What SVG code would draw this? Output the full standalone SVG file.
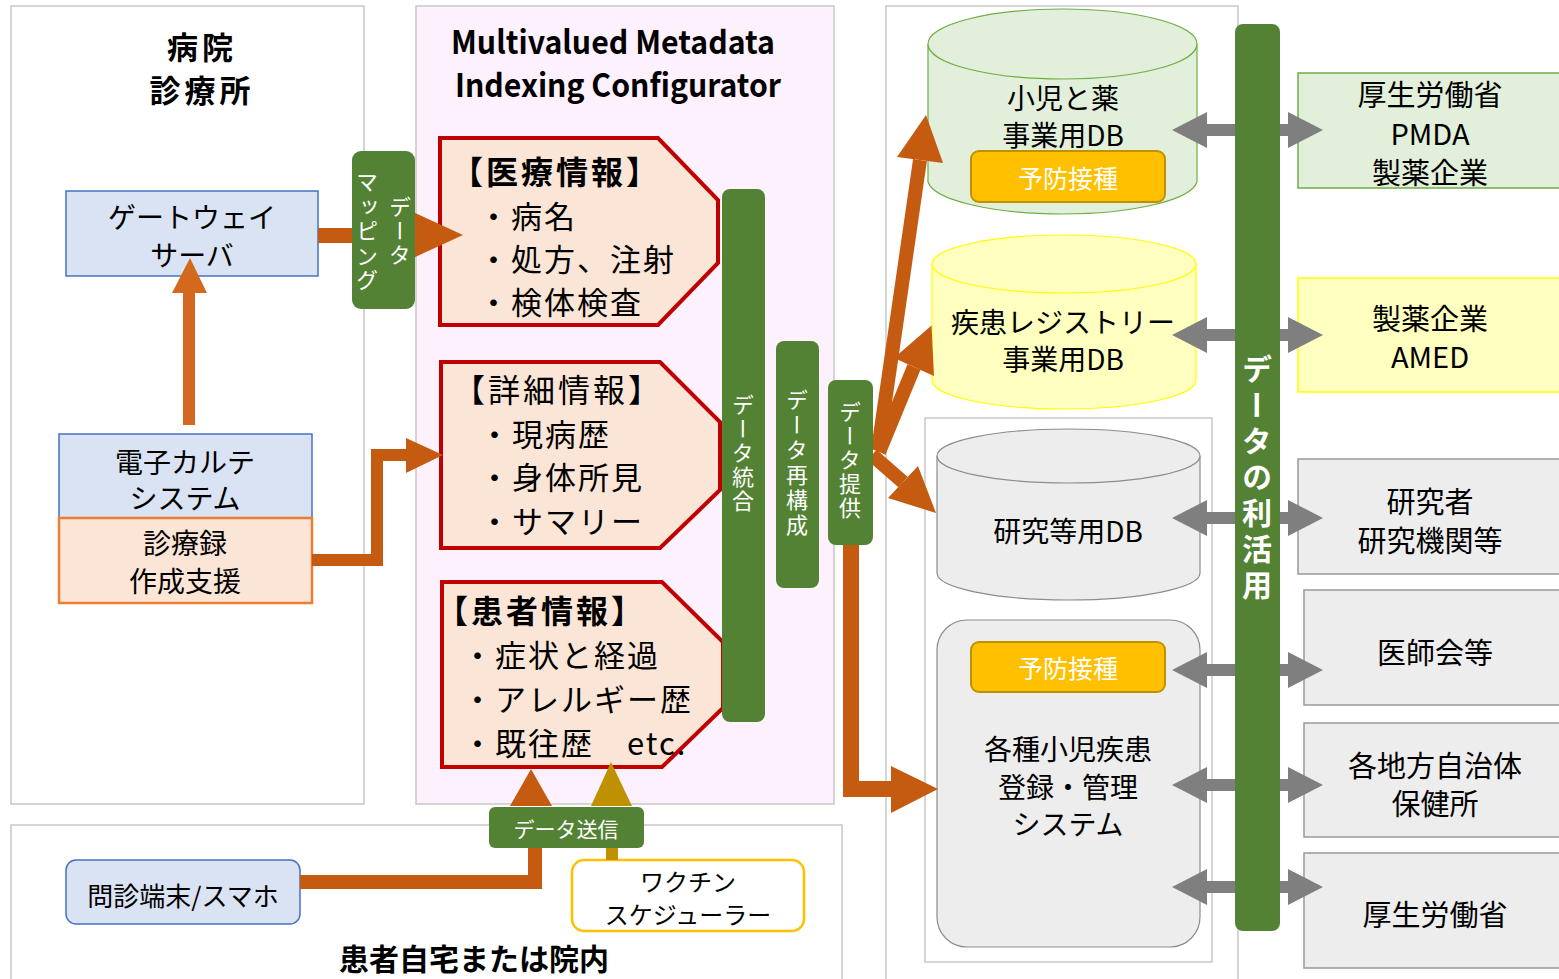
<svg xmlns="http://www.w3.org/2000/svg" width="1559" height="979" viewBox="0 0 1559 979">
<style>
text{font-family:"Noto Sans CJK JP","Noto Sans",sans-serif;fill:#000;dominant-baseline:central}
.c{text-anchor:middle}
.b{font-weight:bold}
.panel{fill:#fff;stroke:#c8c8c8;stroke-width:1.5}
.blue{fill:#dae3f3;stroke:#4472c4;stroke-width:1.5}
.pent{fill:#fbe5d6;stroke:#c00000;stroke-width:4}
.grn{fill:#548235}
.vt{fill:#fff;writing-mode:vertical-rl;font-size:22px}
.yobo{fill:#ffc000;stroke:#bf9000;stroke-width:2}
.gbox{fill:#ededed;stroke:#999;stroke-width:1.5}
.org{fill:#c55a11}
.ol{fill:none;stroke:#c55a11}
.w{fill:#fff}
.hd{font-size:32px;letter-spacing:3px}
.it{font-size:31px;letter-spacing:2px}
.ttl{font-size:31px;letter-spacing:4px;font-weight:bold}
</style>
<defs>
<path id="dbl" d="M1172,0 L1207,-18 L1207,-6 L1288,-6 L1288,-18 L1323,0 L1288,18 L1288,6 L1207,6 L1207,18 Z" fill="#7f7f7f"/>
</defs>

<!-- panels -->
<g id="panel-hospital">
<rect class="panel" x="11" y="6" width="353" height="798"/>
<text class="c ttl" x="202" y="45">病院</text>
<text class="c ttl" x="202" y="88">診療所</text>
</g>
<g id="panel-mmic">
<rect x="416" y="6" width="418" height="798" fill="#fdf1fd" stroke="#c8c8c8" stroke-width="1.5"/>
<text class="c b" x="613" y="54" font-size="32" textLength="324" lengthAdjust="spacingAndGlyphs" style="dominant-baseline:alphabetic">Multivalued Metadata</text>
<text class="c b" x="618" y="97" font-size="32" textLength="326" lengthAdjust="spacingAndGlyphs" style="dominant-baseline:alphabetic">Indexing Configurator</text>
</g>
<g id="panel-right">
<rect class="panel" x="886" y="6" width="352" height="1000"/>
<rect class="panel" x="925" y="418" width="287" height="544"/>
</g>
<g id="panel-home">
<rect class="panel" x="11" y="825" width="831" height="200"/>
<text class="c b" x="474" y="957" font-size="30">患者自宅または院内</text>
</g>

<!-- left nodes -->
<g id="gateway">
<rect class="blue" x="66" y="191" width="252" height="85"/>
<text class="c" x="192" y="216" font-size="28">ゲートウェイ</text>
<text class="c" x="192" y="254" font-size="28">サーバ</text>
</g>
<g id="emr">
<rect class="blue" x="59" y="434" width="253" height="84"/>
<text class="c" x="185" y="461" font-size="28">電子カルテ</text>
<text class="c" x="185" y="497" font-size="28">システム</text>
</g>
<g id="shinryoroku">
<rect x="59" y="518" width="253" height="85" fill="#fbe5d6" stroke="#ed7d31" stroke-width="2.5"/>
<text class="c" x="185" y="542" font-size="28">診療録</text>
<text class="c" x="185" y="580" font-size="28">作成支援</text>
</g>

<!-- pentagons -->
<g id="iryo">
<polygon class="pent" points="440,138 658,138 718,200 718,263 658,325 440,325"/>
<text class="b hd" x="451" y="170">【医療情報】</text>
<text class="it" x="478" y="214">・病名</text>
<text class="it" x="478" y="257">・処方、注射</text>
<text class="it" x="478" y="300">・検体検査</text>
</g>
<g id="shosai">
<polygon class="pent" points="441,362 660,362 720,422 720,490 660,548 441,548"/>
<text class="hd" x="453" y="388">【詳細情報】</text>
<text class="it" x="479" y="432">・現病歴</text>
<text class="it" x="479" y="475">・身体所見</text>
<text class="it" x="479" y="519">・サマリー</text>
</g>
<g id="kanja">
<polygon class="pent" points="442,582 662,582 723,642 723,708 662,767 442,767"/>
<text class="b hd" x="436" y="609">【患者情報】</text>
<text class="it" x="462" y="653">・症状と経過</text>
<text class="it" x="462" y="697">・アレルギー歴</text>
<text class="it" x="462" y="741">・既往歴<tspan x="627">etc.</tspan></text>
</g>

<!-- right DB nodes -->
<g id="db-shoni">
<path d="M928,44 V182 A135,35 0 0 0 1197,182 V44" fill="#e2efda" stroke="#70ad47" stroke-width="1.2"/>
<ellipse cx="1062.5" cy="44" rx="134.5" ry="35" fill="#e2efda" stroke="#70ad47" stroke-width="1.2"/>
<text class="c" x="1063" y="97" font-size="28">小児と薬</text>
<text class="c" x="1063" y="134" font-size="28">事業用DB</text>
<rect class="yobo" x="971" y="151" width="194" height="51" rx="8"/>
<text class="c w" x="1068" y="177" font-size="25">予防接種</text>
</g>
<g id="db-registry">
<path d="M932,264 V380 A132,29 0 0 0 1196,380 V264" fill="#ffffc0" stroke="#ffff00" stroke-width="1.2"/>
<ellipse cx="1064" cy="264" rx="132" ry="29" fill="#ffffc0" stroke="#ffff00" stroke-width="1.2"/>
<text class="c" x="1063" y="321" font-size="28">疾患レジストリー</text>
<text class="c" x="1063" y="358" font-size="28">事業用DB</text>
</g>
<g id="db-research">
<path d="M937,456 V573 A131.5,27 0 0 0 1200,573 V456" fill="#ededed" stroke="#8c8c8c" stroke-width="1.2"/>
<ellipse cx="1068.5" cy="456" rx="131.5" ry="27" fill="#ededed" stroke="#8c8c8c" stroke-width="1.2"/>
<text class="c" x="1068" y="530" font-size="28">研究等用DB</text>
</g>
<g id="registry-system">
<rect x="937" y="620" width="263" height="327" rx="30" fill="#ededed" stroke="#8c8c8c" stroke-width="1.2"/>
<rect class="yobo" x="971" y="642" width="194" height="50" rx="8"/>
<text class="c w" x="1068" y="667" font-size="25">予防接種</text>
<text class="c" x="1068" y="748" font-size="28">各種小児疾患</text>
<text class="c" x="1068" y="786" font-size="28">登録・管理</text>
<text class="c" x="1068" y="823" font-size="28">システム</text>
</g>

<!-- right users -->
<g id="user-mhlw-pmda">
<rect x="1298" y="73" width="280" height="115" fill="#e2efda" stroke="#70ad47" stroke-width="1.5"/>
<text class="c" x="1430" y="93" font-size="29">厚生労働省</text>
<text class="c" x="1430" y="132" font-size="29">PMDA</text>
<text class="c" x="1430" y="171" font-size="29">製薬企業</text>
</g>
<g id="user-pharma-amed">
<rect x="1298" y="278" width="280" height="114" fill="#ffffc0" stroke="#ffff00" stroke-width="1.5"/>
<text class="c" x="1430" y="317" font-size="29">製薬企業</text>
<text class="c" x="1430" y="355" font-size="29">AMED</text>
</g>
<g id="user-research">
<rect class="gbox" x="1298" y="459" width="280" height="115"/>
<text class="c" x="1430" y="500" font-size="29">研究者</text>
<text class="c" x="1430" y="539" font-size="29">研究機関等</text>
</g>
<g id="user-ishikai">
<rect class="gbox" x="1304" y="590" width="280" height="115"/>
<text class="c" x="1435" y="651" font-size="29">医師会等</text>
</g>
<g id="user-local">
<rect class="gbox" x="1304" y="723" width="280" height="114"/>
<text class="c" x="1435" y="764" font-size="29">各地方自治体</text>
<text class="c" x="1435" y="802" font-size="29">保健所</text>
</g>
<g id="user-mhlw">
<rect class="gbox" x="1304" y="853" width="280" height="115"/>
<text class="c" x="1435" y="913" font-size="29">厚生労働省</text>
</g>

<!-- bottom nodes -->
<g id="monshin">
<rect class="blue" x="66" y="860" width="234" height="64" rx="10"/>
<text class="c" x="183" y="894" font-size="26">問診端末/スマホ</text>
</g>
<g id="vaccine">
<rect x="572" y="860" width="232" height="71" rx="12" fill="#fff" stroke="#ffc000" stroke-width="2.5"/>
<text class="c" x="688" y="880" font-size="24">ワクチン</text>
<text class="c" x="688" y="913" font-size="24">スケジューラー</text>
</g>

<!-- connectors -->
<g id="connectors">
<rect x="183" y="290" width="12" height="135" fill="#d2691e"/>
<polygon points="172,293 190,258 207,293" fill="#d2691e"/>
<rect class="org" x="318" y="228" width="36" height="15"/>
<polygon class="org" points="413,212 463,235 413,258"/>
<path class="ol" d="M312,560 H377 V455 H408" stroke-width="12"/>
<polygon class="org" points="406,438 443,455 406,473"/>
<path class="ol" d="M878,450 L920,160" stroke-width="14"/>
<polygon class="org" points="897,157 926,115 943,163"/>
<path class="ol" d="M879,452 L914,367" stroke-width="14"/>
<polygon class="org" points="894,358 931.5,325.5 934,376"/>
<path class="ol" d="M872,455 L903,482" stroke-width="14"/>
<polygon class="org" points="888,498 936,513 918,466"/>
<path class="ol" d="M851,540 V789 H893" stroke-width="16"/>
<polygon class="org" points="891,766 938,789 891,813"/>
<path class="ol" d="M300,882 H535 V808" stroke-width="14"/>
<polygon class="org" points="510,806 531,769 552,806"/>
<path d="M612,860 V808" stroke="#bf9000" stroke-width="12" fill="none"/>
<polygon points="591,806 611,762 632,806" fill="#bf9000"/>
<use href="#dbl" y="130"/>
<use href="#dbl" y="335"/>
<use href="#dbl" y="518"/>
<use href="#dbl" y="670"/>
<use href="#dbl" y="785"/>
<use href="#dbl" y="887"/>
</g>

<!-- green bars -->
<g id="mapping">
<rect class="grn" x="352" y="151" width="63" height="158" rx="9"/>
<text class="vt" x="400" y="196" letter-spacing="2">データ</text>
<text class="vt" x="367" y="171" letter-spacing="2.5">マッピング</text>
</g>
<g id="togo">
<rect class="grn" x="722" y="189" width="43" height="533" rx="8"/>
<text class="vt" x="743" y="394" letter-spacing="2">データ統合</text>
</g>
<g id="saikosei">
<rect class="grn" x="776" y="341" width="43" height="247" rx="8"/>
<text class="vt" x="797" y="389" letter-spacing="3">データ再構成</text>
</g>
<g id="teikyo">
<rect class="grn" x="828" y="380" width="45" height="165" rx="8"/>
<text class="vt" x="850" y="401" letter-spacing="2">データ提供</text>
</g>
<g id="rikatsuyo">
<rect class="grn" x="1235" y="24" width="45" height="907" rx="8"/>
<text class="vt b" x="1257" y="354" letter-spacing="6" style="font-size:30px">データの利活用</text>
</g>
<g id="soshin">
<rect class="grn" x="489" y="807" width="155" height="41" rx="6"/>
<text class="c w" x="566" y="828" font-size="21">データ送信</text>
</g>
</svg>
